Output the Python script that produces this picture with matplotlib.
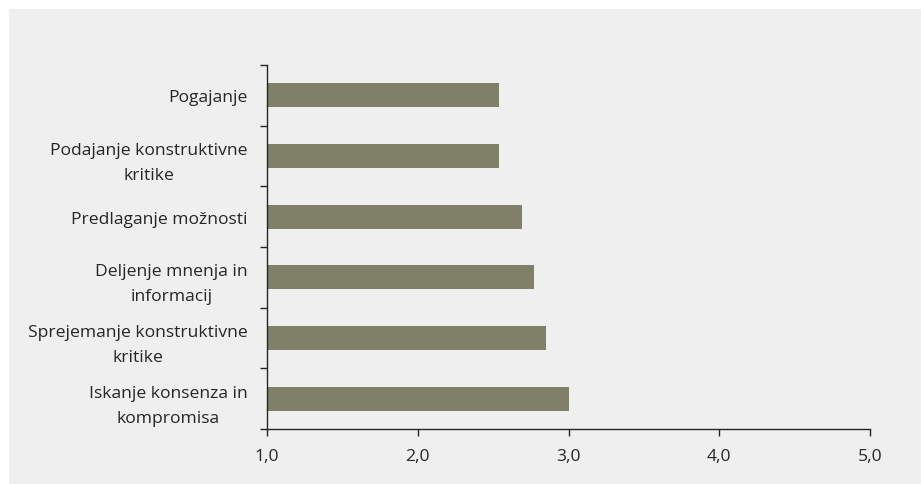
import numpy as np
import matplotlib.pyplot as plt
from matplotlib.patches import Rectangle

labels = ['Pogajanje',
          'Podajanje konstruktivne\nkritike',
          'Predlaganje možnosti',
          'Deljenje mnenja in\ninformacij',
          'Sprejemanje konstruktivne\nkritike',
          'Iskanje konsenza in\nkompromisa']
values = [2.54, 2.54, 2.69, 2.77, 2.85, 3.00]
xticks = [1, 2, 3, 4, 5]
xlabels = ['1,0', '2,0', '3,0', '4,0', '5,0']

plt.rcParams['font.family'] = ['Open Sans', 'DejaVu Sans']
bg = '#efefef'
ink = '#262626'
fs = 12.6

fig = plt.figure(figsize=(9.21, 4.85), dpi=100)
fig.patch.set_facecolor('white')
fig.patches.append(Rectangle((9/921, 0), 1 - 9/921, 1 - 10/485,
                             transform=fig.transFigure, facecolor=bg,
                             edgecolor='none', zorder=-10))

ax = fig.add_axes([267/921, 1 - 430/485, (870 - 267)/921, (430 - 66)/485])
ax.set_facecolor(bg)

y = np.arange(len(labels))
ax.barh(y, np.array(values) - 1, left=1, height=0.4, color='#807f68')

ax.set_xlim(1, 5)
ax.set_ylim(len(labels) - 0.5, -0.5)
ax.set_xticks(xticks)
ax.set_xticklabels(xlabels)

# category names sit between boundary ticks
ax.set_yticks(np.arange(-0.5, len(labels)), minor=True)
ax.set_yticks(y)
ax.set_yticklabels(labels, multialignment='center', linespacing=1.75)

ax.tick_params(axis='y', which='major', length=0, pad=14, labelsize=fs, colors=ink)
ax.tick_params(axis='y', which='minor', length=5, width=1, color=ink, direction='out')
ax.tick_params(axis='x', length=5, width=1, color=ink, direction='out', pad=9,
               labelsize=fs, labelcolor=ink)

for s in ['top', 'right']:
    ax.spines[s].set_visible(False)
for s in ['left', 'bottom']:
    ax.spines[s].set_color(ink)
    ax.spines[s].set_linewidth(1)

plt.savefig('out.png', dpi=100, facecolor=fig.get_facecolor())
